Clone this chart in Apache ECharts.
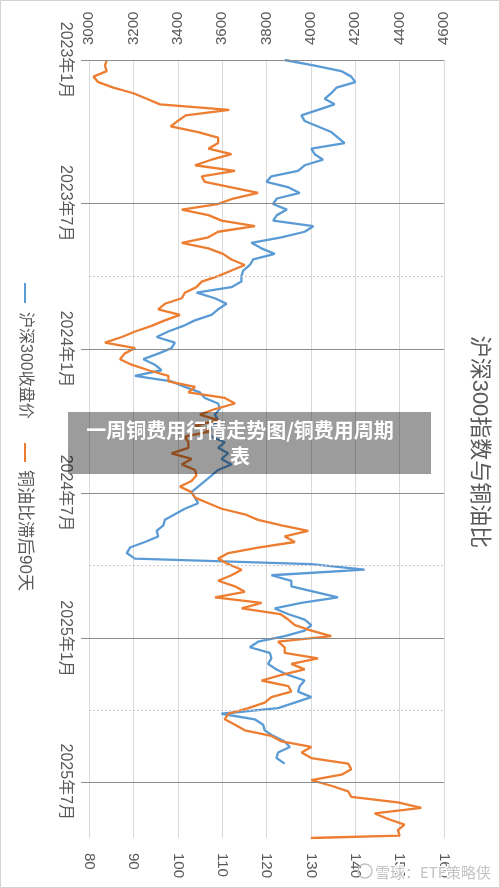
<!DOCTYPE html>
<html>
<head>
<meta charset="utf-8">
<script src="https://cdn.jsdelivr.net/npm/echarts@6/dist/echarts.min.js"></script>
<style>
html,body{margin:0;padding:0;background:#fff;}
#chart{width:500px;height:888px;}
</style>
</head>
<body>
<div id="chart"></div>
<script>
// ---- data (weekly samples, first sample 2023-01-01) ----
const sampleStart = '2023-01-01';
const sampleStepDays = 7;
const hs300Close = [
  3882,4017,4137,4182,4200,4115,4092,4062,4107,4032,
  3957,3972,4032,4092,4122,4152,4002,4017,4055,3972,
  3942,3822,3800,3900,3950,3847,3829,3892,3847,3830,
  4011,3972,3867,3732,3777,3837,3740,3725,3695,3687,
  3687,3642,3485,3567,3620,3582,3552,3477,3425,3357,
  3305,3387,3372,3312,3245,3297,3327,3207,3372,3432,
  3500,3522,3582,3590,3567,3582,3560,3545,3552,3612,
  3582,3627,3597,3642,3582,3552,3522,3492,3462,3477,
  3492,3432,3387,3342,3335,3305,3312,3252,3185,3170,
  3207,4002,4242,3822,3912,3912,4017,4122,3957,3837,
  3897,3972,4002,3972,3882,3762,3725,3815,3822,3807,
  3845,3897,3972,3950,3942,4002,3927,3852,3597,3747,
  3785,3792,3830,3882,3905,3852,3845,3882
];
const copperOilLag90 = [
  84,83.6,84,81,82.1,85.5,90,93,96,111.6,
  101.8,100,98.4,104.6,109.1,109.1,106.9,112.1,107.6,103.9,
  112.9,105.4,106.1,112.1,118.1,112.5,109,100.9,106.9,109.9,
  117.4,109.1,106.9,100.9,106.9,110.2,112.1,115.1,112.1,109.1,
  105.4,104.2,101.6,100.9,97.1,95.6,100.5,97.1,94.1,90.4,
  87.4,83.6,90.4,88,87,89.6,93.4,97.9,97.9,103.9,
  102.4,110.6,112.9,108.4,105,109.1,103.9,107.6,101.6,102.4,
  102.4,98.6,103.1,100.9,103.9,104.2,103.1,100.5,103.1,103.9,
  106.9,109.9,115.1,118.1,123.4,129.4,124.1,126.4,118.1,111.4,
  109.1,111.4,114.4,112.1,109.1,112.9,115.1,108.4,118.9,114.4,
  123.1,124.9,126.4,130.1,134.6,122.6,124.1,124.1,131.6,125.6,
  128.6,123.4,118.9,124.9,125.6,121.1,119.6,115.9,111.4,110.6,
  112.9,115.1,121.1,123.4,130.1,127.9,130.1,138.4,139.1,136.9,
  130.1,134.6,138.4,139.1,149.6,154.9,144.4,147.4,151.1,149.6,
  150
];
const copperOilLastDate = '2025-09-10';
const copperOilLastValue = 130;
const axisStartDate = '2023-01-01';
const axisEndDate = '2025-09-10';
const majorDates = ['2023-01-01','2023-07-01','2024-01-01','2024-07-01','2025-01-01','2025-07-01'];
const minorDates = ['2023-10-01','2024-10-01','2025-04-01'];
const hsTicks = [3000,3200,3400,3600,3800,4000,4200,4400,4600];
const ratioTicks = [80,90,100,110,120,130,140,150,160];
const seriesNames = ['沪深300收盘价','铜油比滞后90天'];
const titleText = '沪深300指数与铜油比';
const bannerText = '一周铜费用行情走势图/铜费用周期\n表';
const watermarkText = '雪球：ETF策略侠';

// ---- helpers ----
const DAY = 86400000;
function ts(s){ const p = s.split('-').map(Number); return Date.UTC(p[0], p[1]-1, p[2]); }
const t0 = ts(sampleStart);
const hsData = hs300Close.map((v,i)=>[v, t0 + i*sampleStepDays*DAY]);
const coData = copperOilLag90.map((v,i)=>[v, t0 + i*sampleStepDays*DAY]);
coData.push([copperOilLastValue, ts(copperOilLastDate)]);

const FONT = '"Liberation Sans","Noto Sans CJK SC",sans-serif';
const TXT = '#595959';

const chart = echarts.init(document.getElementById('chart'), null, {renderer:'canvas'});
const option = {
  animation:false,
  backgroundColor:'#ffffff',
  grid:{left:89, right:56, top:60, bottom:50, containLabel:false},
  xAxis:[
    {type:'value', position:'top', min:hsTicks[0], max:hsTicks[hsTicks.length-1], interval:hsTicks[1]-hsTicks[0],
     axisLine:{show:false}, axisTick:{show:false},
     splitLine:{show:true, lineStyle:{color:'#d9d9d9', width:1}},
     axisLabel:{rotate:-90, margin:15, color:TXT, fontSize:15, fontFamily:FONT, formatter:function(v){return String(v);}}},
    {type:'value', position:'bottom', min:ratioTicks[0], max:ratioTicks[ratioTicks.length-1], interval:ratioTicks[1]-ratioTicks[0],
     axisLine:{show:false}, axisTick:{show:false}, splitLine:{show:false},
     axisLabel:{rotate:-90, margin:15, color:TXT, fontSize:15, fontFamily:FONT, formatter:function(v){return String(v);}}}
  ],
  yAxis:[{
    type:'value', inverse:true, min:ts(axisStartDate), max:ts(axisEndDate),
    axisLine:{show:false},
    splitLine:{show:false},
    axisTick:{show:true, length:8, customValues:majorDates.map(ts), lineStyle:{color:'#8c8c8c'}},
    axisLabel:{rotate:-90, margin:16, color:TXT, fontSize:16, fontFamily:FONT,
      customValues:majorDates.map(ts),
      formatter:function(v){ const d=new Date(v+2*DAY); return d.getUTCFullYear()+'年'+(d.getUTCMonth()+1)+'月'; }}
  }],
  series:[
    {type:'line', name:'grid', xAxisIndex:0, yAxisIndex:0, data:[], z:1, silent:true,
     markLine:{symbol:'none', silent:true, animation:false, label:{show:false},
       data: majorDates.map(d=>({yAxis:ts(d), lineStyle:{color:'#8c8c8c', width:1, type:'solid'}}))
         .concat(minorDates.map(d=>({yAxis:ts(d), lineStyle:{color:'#c8c8c8', width:1, type:[2,2]}})))
     }},
    {type:'line', name:seriesNames[0], xAxisIndex:0, yAxisIndex:0, data:hsData, showSymbol:false, z:3,
     lineStyle:{color:'#5b9bd5', width:2.3}, itemStyle:{color:'#5b9bd5'}},
    {type:'line', name:seriesNames[1], xAxisIndex:1, yAxisIndex:0, data:coData, showSymbol:false, z:3,
     lineStyle:{color:'#ed7d31', width:2.3}, itemStyle:{color:'#ed7d31'}}
  ],
  graphic:[
    {type:'rect', shape:{x:0.5,y:0.5,width:499,height:887}, style:{fill:'none', stroke:'#d4d4d4', lineWidth:1}, z:0, silent:true},
    {type:'text', x:479, y:442, rotation:-Math.PI/2, z:10,
     style:{text:titleText, fill:TXT, font:'22px '+FONT, align:'center', verticalAlign:'middle'}},
    {type:'group', x:25, y:283, rotation:-Math.PI/2, z:10, children:[
      {type:'line', shape:{x1:0,y1:0,x2:20,y2:0}, style:{stroke:'#5b9bd5', lineWidth:2}},
      {type:'text', x:29, y:0, style:{text:seriesNames[0], fill:TXT, font:'16px '+FONT, align:'left', verticalAlign:'middle'}},
      {type:'line', shape:{x1:160,y1:0,x2:179,y2:0}, style:{stroke:'#ed7d31', lineWidth:2}},
      {type:'text', x:187, y:0, style:{text:seriesNames[1], fill:TXT, font:'17px '+FONT, align:'left', verticalAlign:'middle'}}
    ]},
    {type:'rect', shape:{x:68,y:412,width:363,height:62}, style:{fill:'rgba(0,0,0,0.39)'}, z:20, silent:true},
    {type:'text', x:240, y:443, z:21,
     style:{text:bannerText, fill:'#ffffff', font:'bold 20px "Noto Sans CJK SC",sans-serif', align:'center', verticalAlign:'middle', lineHeight:26}},
    {type:'circle', shape:{cx:365, cy:871, r:7}, style:{fill:'none', stroke:'#c4c4c4', lineWidth:1.5}, z:22},
    {type:'text', x:375, y:872, z:22,
     style:{text:watermarkText, fill:'#c4c4c4', font:'15px "Noto Sans CJK SC",sans-serif', align:'left', verticalAlign:'middle', stroke:'#ffffff', lineWidth:2}}
  ]
};
chart.setOption(option);
</script>
</body>
</html>
